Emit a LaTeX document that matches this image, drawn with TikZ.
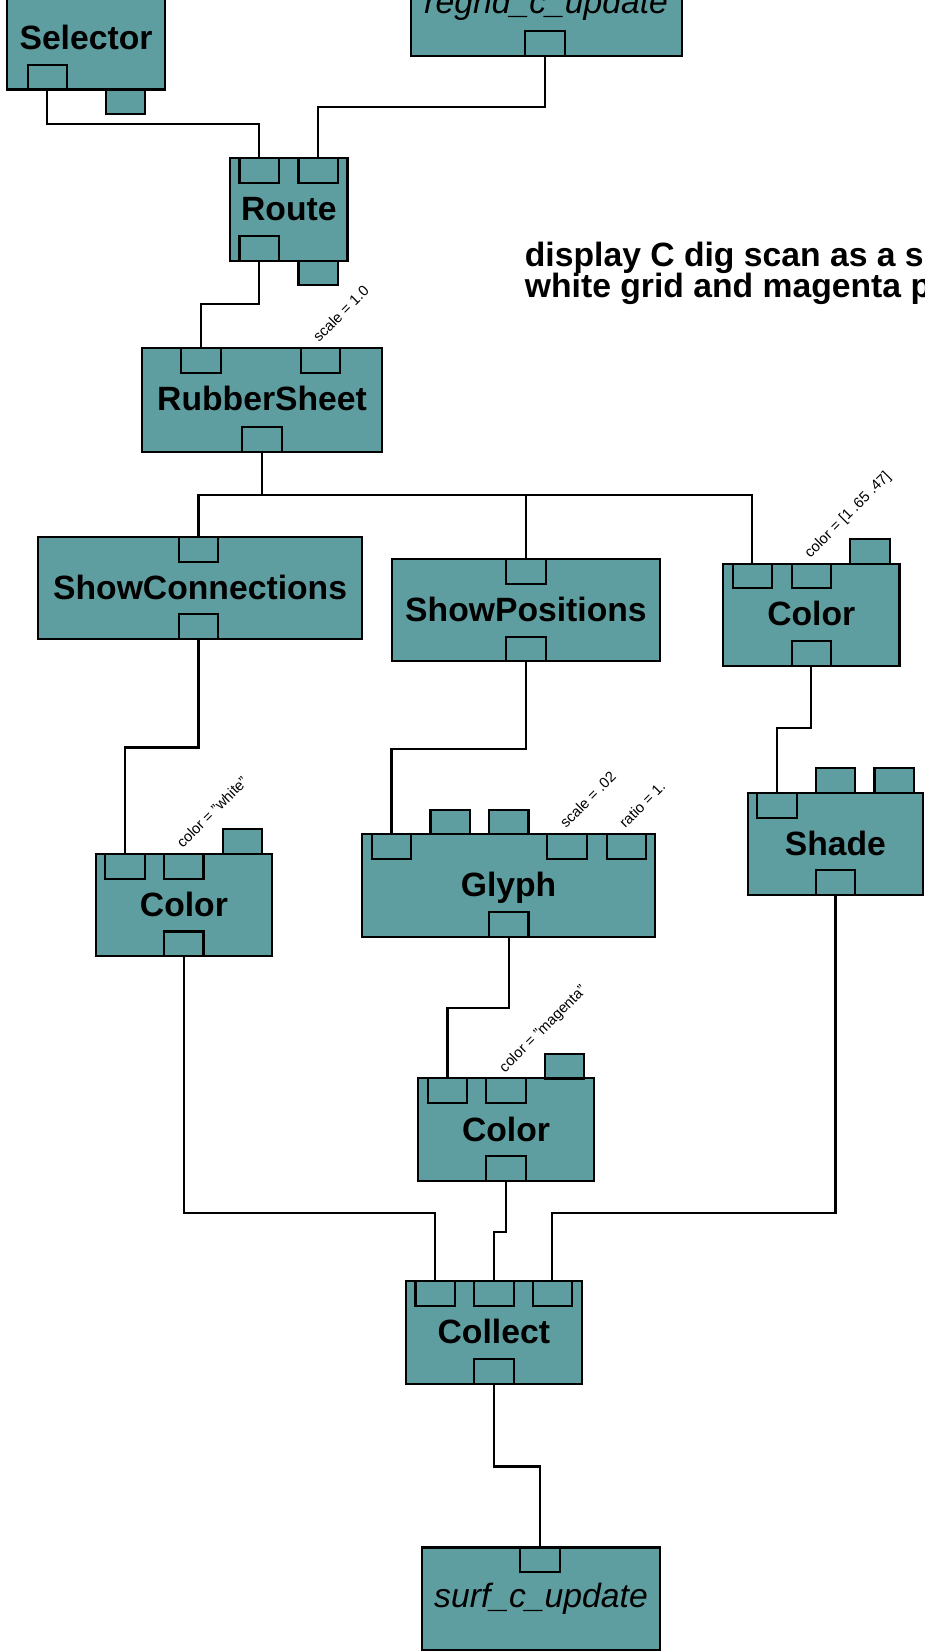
\documentclass[tikz,border=0pt]{standalone}
\usepackage{fontspec}
\setmainfont{Liberation Sans}
\definecolor{dxteal}{RGB}{95,158,160}
% module body: name, left, top, right, bottom
\newcommand\dxbox[5]{\node[dxmodule, minimum width={#4-#2}, minimum height={#5-#3}] (#1) at ({(#2+#4)/2},{(#3+#5)/2}) {};}
% port tab: name, centre x, centre y
\newcommand\dxport[3]{\node[dxtab] (#1) at (#2,#3) {};}
\begin{document}
\begin{tikzpicture}[x=1pt,y=-1pt,
  dxmodule/.style={draw=black, fill=dxteal, line width=2pt, rectangle, inner sep=0pt, outer sep=0pt},
  dxtab/.style={draw=black, fill=dxteal, line width=2pt, rectangle, inner sep=0pt, outer sep=0pt,
               minimum width=37.5pt, minimum height=23.5pt},
  modlabel/.style={font=\fontsize{32}{32}\selectfont\bfseries, inner sep=0pt, anchor=base},
  macrolabel/.style={font=\fontsize{32}{32}\selectfont\itshape, inner sep=0pt, anchor=base},
  paramlabel/.style={font=\fontsize{14}{14}\selectfont, inner sep=0pt, anchor=base west, rotate=45},
  notelabel/.style={font=\fontsize{32}{32}\selectfont\bfseries, inner sep=0pt, anchor=base west},
  wire/.style={draw=black, line width=2.1pt}]
\useasboundingbox (0,0) rectangle (878,1568);
\clip (0,0) rectangle (878,1568);

% ---------- modules ----------
\dxbox{sel}{7}{-12}{156.5}{85}
\dxport{sel-o}{45}{73.3}
\dxport{sel-x}{119}{96.8}
\node[modlabel] (sel-t) at (81.7,47) {Selector};

\dxbox{reg}{390}{-45}{647.5}{52.8}
\dxport{reg-o}{517.5}{41.1}
\node[macrolabel] (reg-t) at (518.7,13) {regrid\_c\_update};

\dxbox{rt}{218.6}{150}{330}{247.5}
\dxport{rt-i1}{246.2}{161.7}
\dxport{rt-i2}{302.2}{161.7}
\dxport{rt-o}{246.2}{235.8}
\dxport{rt-x}{302.2}{259.3}
\node[modlabel] (rt-t) at (274.3,209.5) {Route};

\dxbox{rs}{134.5}{330.6}{363.2}{429}
\dxport{rs-i1}{190.8}{342.3}
\dxport{rs-i2}{304.5}{342.3}
\dxport{rs-o}{248.9}{417.3}
\node[modlabel] (rs-t) at (248.9,390) {RubberSheet};
\node[paramlabel] (rs-p) at (303,325.5) {scale = 1.0};

\dxbox{sc}{36}{510}{344}{607}
\dxport{sc-i}{188.5}{521.7}
\dxport{sc-o}{188.5}{595.3}
\node[modlabel] (sc-t) at (190,569.5) {ShowConnections};

\dxbox{sp}{372}{531}{627}{628}
\dxport{sp-i}{499.5}{542.7}
\dxport{sp-o}{499.5}{616.3}
\node[modlabel] (sp-t) at (499.5,590.5) {ShowPositions};

\dxbox{cr}{686.6}{535.4}{854.3}{632.2}
\dxport{cr-i1}{714.5}{547.1}
\dxport{cr-i2}{770.5}{547.1}
\dxport{cr-x}{826.2}{523.7}
\dxport{cr-o}{770.5}{620.5}
\node[modlabel] (cr-t) at (770.5,594) {Color};
\node[paramlabel] (cr-p) at (769.5,530.4) {color = [1 .65 .47]};

\dxbox{sh}{710.3}{753}{876.5}{850}
\dxport{sh-i}{738}{764.7}
\dxport{sh-x1}{793.5}{741.3}
\dxport{sh-x2}{849.3}{741.3}
\dxport{sh-o}{793.5}{838.3}
\node[modlabel] (sh-t) at (793.4,812.5) {Shade};

\dxbox{cl}{91.2}{811}{258.3}{908.1}
\dxport{cl-i1}{118.6}{822.7}
\dxport{cl-i2}{174.5}{822.7}
\dxport{cl-x}{230.2}{799.3}
\dxport{cl-o}{174.5}{896.4}
\node[modlabel] (cl-t) at (174.7,870) {Color};
\node[paramlabel] (cl-p) at (173.5,806) {color = "white"};

\dxbox{gl}{344}{792.3}{621.9}{890}
\dxport{gl-i1}{371.8}{804}
\dxport{gl-x1}{427.6}{780.6}
\dxport{gl-x2}{483.2}{780.6}
\dxport{gl-i3}{538.5}{804}
\dxport{gl-i4}{594.9}{804}
\dxport{gl-o}{483.2}{878.3}
\node[modlabel] (gl-t) at (483,851.8) {Glyph};
\node[paramlabel] (gl-p1) at (537.5,787.3) {scale = .02};
\node[paramlabel] (gl-p2) at (593.9,787.3) {ratio = 1.};

\dxbox{cm}{397.1}{1024.2}{564.1}{1121.6}
\dxport{cm-i1}{425}{1035.9}
\dxport{cm-i2}{480.6}{1035.9}
\dxport{cm-x}{536.3}{1012.5}
\dxport{cm-o}{480.6}{1109.9}
\node[modlabel] (cm-t) at (480.6,1083.7) {Color};
\node[paramlabel] (cm-p) at (479.6,1019.2) {color = "magenta"};

\dxbox{co}{385.4}{1216.6}{552.7}{1314}
\dxport{co-i1}{413.4}{1228.3}
\dxport{co-i2}{469.3}{1228.3}
\dxport{co-i3}{524.6}{1228.3}
\dxport{co-o}{469.3}{1302.3}
\node[modlabel] (co-t) at (469,1276) {Collect};

\dxbox{su}{401.2}{1469.7}{626.5}{1567}
\dxport{su-i}{513}{1481.4}
\node[macrolabel] (su-t) at (513.8,1526.5) {surf\_c\_update};

% ---------- comment ----------
\node[notelabel] (n1) at (498.3,253) {display C dig scan as a s};
\node[notelabel] (n2) at (498.3,283) {white grid and magenta p};

% ---------- wires ----------
\draw[wire] (sel-o.south) -- (sel-o.south |- 0,117.4) -| (rt-i1.north);
\draw[wire] (reg-o.south) -- (reg-o.south |- 0,101.3) -| (rt-i2.north);
\draw[wire] (rt-o.south) -- (rt-o.south |- 0,288.6) -| (rs-i1.north);
\draw[wire] (rs-o.south) -- (rs-o.south |- 0,470) -| (sc-i.north);
\draw[wire] (rs-o.south) -- (rs-o.south |- 0,470) -| (sp-i.north);
\draw[wire] (rs-o.south) -- (rs-o.south |- 0,470) -| (cr-i1.north);
\draw[wire] (sc-o.south) -- (sc-o.south |- 0,710) -| (cl-i1.north);
\draw[wire] (sp-o.south) -- (sp-o.south |- 0,711) -| (gl-i1.north);
\draw[wire] (cr-o.south) -- (cr-o.south |- 0,691.3) -| (sh-i.north);
\draw[wire] (gl-o.south) -- (gl-o.south |- 0,957.1) -| (cm-i1.north);
\draw[wire] (cl-o.south) -- (cl-o.south |- 0,1151.7) -| (co-i1.north);
\draw[wire] (cm-o.south) -- (cm-o.south |- 0,1169.7) -| (co-i2.north);
\draw[wire] (sh-o.south) -- (sh-o.south |- 0,1151.7) -| (co-i3.north);
\draw[wire] (co-o.south) -- (co-o.south |- 0,1392.8) -| (su-i.north);
\end{tikzpicture}
\end{document}
